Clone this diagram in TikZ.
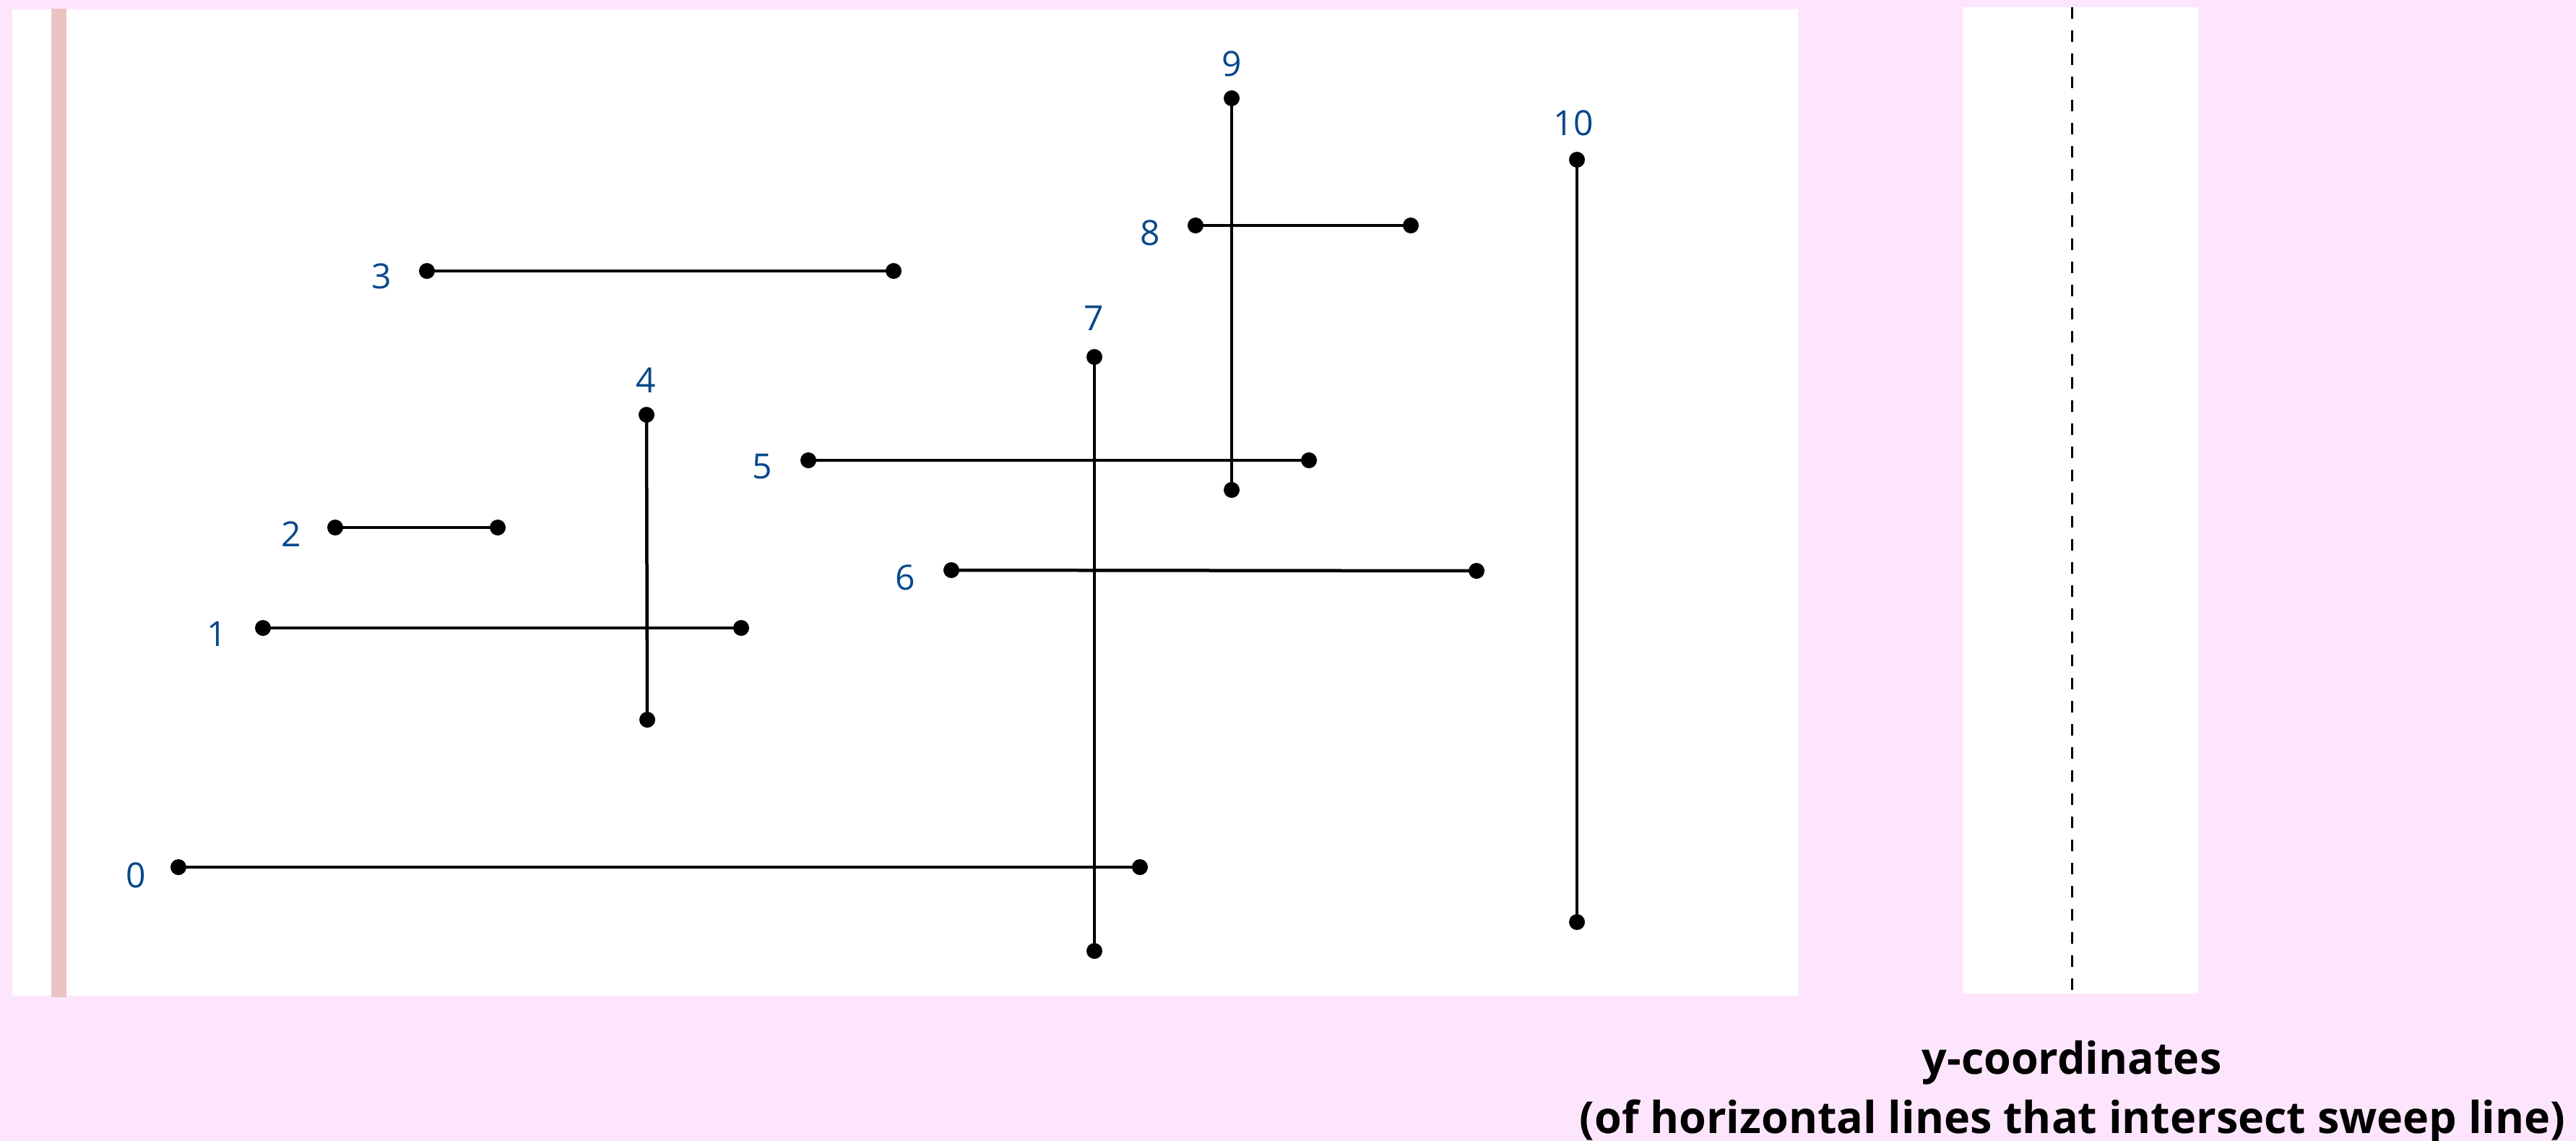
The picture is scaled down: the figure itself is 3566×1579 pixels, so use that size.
\documentclass[tikz,border=0pt]{standalone}
\usepackage{fontspec}
\setmainfont{Open Sans}
\definecolor{bgpink}{RGB}{253,230,253}
\definecolor{barpink}{RGB}{235,195,195}
\definecolor{lblblue}{RGB}{8,72,140}
\tikzset{
  seg/.style={line width=4.5pt, black},
  lbl/.style={text=lblblue, inner sep=0pt, font=\fontsize{48}{58}\selectfont},
  caption/.style={inner sep=0pt, anchor=base, font=\bfseries\fontsize{61}{82}\selectfont},
}
\newcommand{\segdot}[1]{\fill[black] (#1) circle (11pt);}
\begin{document}
\begin{tikzpicture}[x=1pt,y=-1pt]
\useasboundingbox (0,0) rectangle (3566,1579);
\fill[bgpink] (0,0) rectangle (3566,1579);
% panels
\fill[white] (17,13) rectangle (2489,1378);
\fill[barpink] (71,12) rectangle (92,1380);
\fill[white] (2717,10) rectangle (3043,1375);
\coordinate (swtop) at (2868,10);
\coordinate (swbot) at (2868,1375);
\draw[line width=3pt, dash pattern=on 16pt off 16pt] (swtop) -- (swbot);
% segment endpoints
\coordinate (s0a) at (247,1200);  \coordinate (s0b) at (1578,1200);
\coordinate (s1a) at (364,869);   \coordinate (s1b) at (1026,869);
\coordinate (s2a) at (464,730);   \coordinate (s2b) at (689,730);
\coordinate (s3a) at (591,375);   \coordinate (s3b) at (1237,375);
\coordinate (s4a) at (895,574);   \coordinate (s4b) at (896,996);
\coordinate (s5a) at (1119,637);  \coordinate (s5b) at (1812,637);
\coordinate (s6a) at (1317,789);  \coordinate (s6b) at (2044,790);
\coordinate (s7a) at (1515,494);  \coordinate (s7b) at (1515,1316);
\coordinate (s8a) at (1655,312);  \coordinate (s8b) at (1953,312);
\coordinate (s9a) at (1705,136);  \coordinate (s9b) at (1705,678);
\coordinate (s10a) at (2183,221); \coordinate (s10b) at (2183,1276);
\foreach \i in {0,...,10}{
  \draw[seg] (s\i a) -- (s\i b);
}
\foreach \i in {0,...,10}{
  \segdot{s\i a}
  \segdot{s\i b}
}
% labels
\node[lbl] (l0) at (188,1211) {0};
\node[lbl] (l1) at (300,877) {1};
\node[lbl] (l2) at (403,739) {2};
\node[lbl] (l3) at (528,382) {3};
\node[lbl] (l4) at (894,526) {4};
\node[lbl] (l5) at (1055,646) {5};
\node[lbl] (l6) at (1253,799) {6};
\node[lbl] (l7) at (1514,440) {7};
\node[lbl] (l8) at (1592,322) {8};
\node[lbl] (l9) at (1705,88) {9};
\node[lbl] (l10) at (2178,170) {10};
% caption
\node[caption] (cap1) at (2868,1486) {y-coordinates};
\node[caption] (cap2) at (2869,1568) {(of horizontal lines that intersect sweep line)};
\end{tikzpicture}
\end{document}
